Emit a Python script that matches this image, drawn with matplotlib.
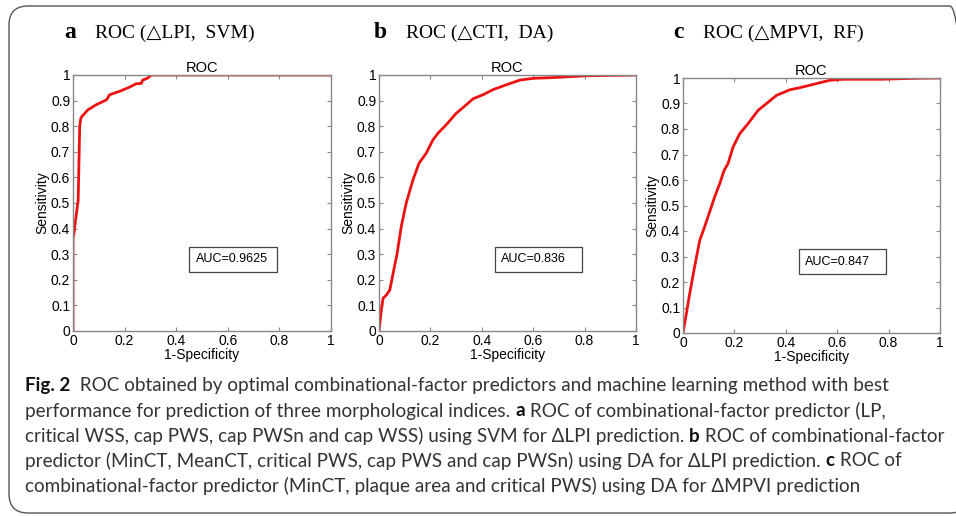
import os
os.environ.setdefault("MPLCONFIGDIR", "/tmp/matplotlib")

import matplotlib
matplotlib.use("Agg")
import matplotlib.pyplot as plt
from matplotlib.patches import FancyBboxPatch, Rectangle

# curvas ROC (1-especificidade, sensibilidade)
fpr_a = [0, 0, 0.005, 0.01, 0.02, 0.026, 0.03, 0.036, 0.058, 0.09, 0.13, 0.142,
         0.18, 0.22, 0.245, 0.265, 0.27, 0.29, 0.303, 1.0]
tpr_a = [0, 0.36, 0.39, 0.434, 0.51, 0.80, 0.83, 0.84, 0.864, 0.884, 0.903, 0.923,
         0.936, 0.953, 0.966, 0.967, 0.98, 0.988, 1.0, 1.0]

fpr_b = [0, 0.009, 0.016, 0.029, 0.042, 0.055, 0.07, 0.087, 0.106, 0.132, 0.156,
         0.184, 0.21, 0.23, 0.262, 0.30, 0.34, 0.366, 0.405, 0.444, 0.496, 0.548,
         0.6, 0.678, 0.808, 1.0]
tpr_b = [0, 0.082, 0.128, 0.141, 0.16, 0.226, 0.30, 0.41, 0.50, 0.59, 0.656,
         0.695, 0.747, 0.773, 0.806, 0.85, 0.884, 0.907, 0.923, 0.943, 0.962, 0.98,
         0.987, 0.99, 0.997, 1.0]

fpr_c = [0, 0.013, 0.026, 0.045, 0.065, 0.084, 0.097, 0.123, 0.143, 0.16, 0.175,
         0.195, 0.221, 0.253, 0.292, 0.325, 0.364, 0.416, 0.455, 0.519, 0.571,
         0.623, 0.766, 0.909, 1.0]
tpr_c = [0, 0.076, 0.154, 0.259, 0.363, 0.416, 0.455, 0.533, 0.586, 0.638, 0.664,
         0.73, 0.782, 0.821, 0.873, 0.9, 0.932, 0.954, 0.962, 0.978, 0.991,
         0.995, 0.995, 0.999, 1.0]

letras = ["a", "b", "c"]
titulos = ["ROC (\u25b3LPI,  SVM)", "ROC (\u25b3CTI,  DA)", "ROC (\u25b3MPVI,  RF)"]
aucs = ["AUC=0.9625", "AUC=0.836", "AUC=0.847"]
x_ticks = [0, 0.2, 0.4, 0.6, 0.8, 1]
x_tick_labels = ["0", "0.2", "0.4", "0.6", "0.8", "1"]
y_ticks = [0, 0.1, 0.2, 0.3, 0.4, 0.5, 0.6, 0.7, 0.8, 0.9, 1]
y_tick_labels = ["0", "0.1", "0.2", "0.3", "0.4", "0.5", "0.6", "0.7", "0.8", "0.9", "1"]

legenda = [
    [("Fig. 2", "bold"), ("  ROC obtained by optimal combinational-factor predictors and machine learning method with best", "normal")],
    [("performance for prediction of three morphological indices. ", "normal"), ("a", "bold"),
     (" ROC of combinational-factor predictor (LP,", "normal")],
    [("critical WSS, cap PWS, cap PWSn and cap WSS) using SVM for \u0394LPI prediction. ", "normal"), ("b", "bold"),
     (" ROC of combinational-factor", "normal")],
    [("predictor (MinCT, MeanCT, critical PWS, cap PWS and cap PWSn) using DA for \u0394LPI prediction. ", "normal"),
     ("c", "bold"), (" ROC of", "normal")],
    [("combinational-factor predictor (MinCT, plaque area and critical PWS) using DA for \u0394MPVI prediction", "normal")],
]

W, H = 956, 516
fonte_legenda = ["Lato", "DejaVu Sans"]

fig = plt.figure(figsize=(W / 100, H / 100), dpi=100)
fig.patch.set_facecolor("white")

# moldura arredondada
moldura = FancyBboxPatch((9 / W, 3 / H), 960 / W, 507 / H,
                         boxstyle="round,pad=0,rounding_size=0.02",
                         transform=fig.transFigure, fill=False,
                         edgecolor="#555555", linewidth=1.0, mutation_aspect=W / H)
fig.patches.append(moldura)

# posicoes dos eixos em pixels: esquerda, direita, topo, base
caixas = [(73, 331, 75, 331), (379, 636, 75, 331), (683, 940, 78, 333)]
pos_letra = [(64, 95), (374, 406), (673, 703)]
curvas = [(fpr_a, tpr_a), (fpr_b, tpr_b), (fpr_c, tpr_c)]

for i in range(3):
    l, r, t, b = caixas[i]
    ax = fig.add_axes([l / W, 1 - b / H, (r - l) / W, (b - t) / H])
    fpr, tpr = curvas[i]
    ax.plot(fpr, tpr, color="#ee1111", linewidth=2.0)
    ax.set_xlim(0, 1)
    ax.set_ylim(0, 1)
    ax.set_xticks(x_ticks)
    ax.set_xticklabels(x_tick_labels)
    ax.set_yticks(y_ticks)
    ax.set_yticklabels(y_tick_labels)
    ax.tick_params(direction="in", top=True, right=True, length=3, width=0.8,
                   color="#888888", labelsize=10, pad=2)
    for lab in ax.get_xticklabels() + ax.get_yticklabels():
        lab.set_family("Liberation Sans")
    for s in ax.spines.values():
        s.set_color("#888888")
        s.set_linewidth(1.0)
    ax.set_title("ROC", fontsize=10.5, family="Liberation Sans", pad=2)
    ax.set_xlabel("1-Specificity", fontsize=10, family="Liberation Sans", labelpad=0)
    ax.set_ylabel("Sensitivity", fontsize=10, family="Liberation Sans", labelpad=1)
    ax.add_patch(Rectangle((0.45, 0.23), 0.34, 0.10, transform=ax.transAxes,
                           fill=False, edgecolor="#444444", linewidth=0.9))
    ax.text(0.475, 0.28, aucs[i], transform=ax.transAxes, fontsize=9,
            family="Liberation Sans", va="center", ha="left")

    xl, xt = pos_letra[i]
    fig.text(xl / W, 1 - 33 / H, letras[i], fontsize=17, fontweight="bold",
             family=["Liberation Serif", "DejaVu Serif"], va="center", ha="left")
    fig.text(xt / W, 1 - 33 / H, titulos[i], fontsize=14,
             family=["Liberation Serif", "DejaVu Serif"], va="center", ha="left")

# legenda da figura, escrita em pedacos
fig.canvas.draw()
renderer = fig.canvas.get_renderer()


def escrever_linha(linha, x, y, tamanho, desenhar=True):
    largura = 0
    for texto, peso in linha:
        cor = "#111111" if peso == "bold" else "#333333"
        t = fig.text((x + largura) / W, 1 - y / H, texto, fontsize=tamanho,
                     fontweight=peso, family=fonte_legenda,
                     color=cor, va="center", ha="left")
        largura += t.get_window_extent(renderer).width
        if not desenhar:
            t.remove()
    return largura


# ajusta o tamanho da fonte para a terceira linha caber de 25 a 943 px
larg = escrever_linha(legenda[2], 25, 436, 13, desenhar=False)
tamanho = 13 * 918 / larg

y0 = 386
for n, linha in enumerate(legenda):
    escrever_linha(linha, 25, y0 + n * 25, tamanho)

fig.savefig("out.png", dpi=100)
